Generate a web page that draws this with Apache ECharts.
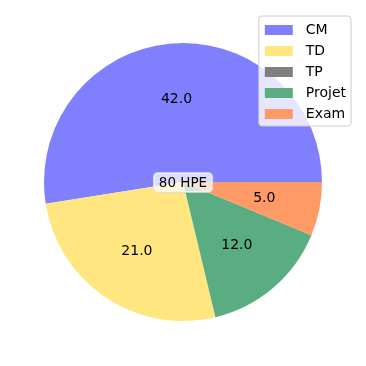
<!DOCTYPE html>
<html><head><meta charset="utf-8">
<script src="https://cdn.jsdelivr.net/npm/echarts@6/dist/echarts.min.js"></script>
<style>html,body{margin:0;padding:0;background:#fff}#c{width:366px;height:366px}</style>
</head><body><div id="c"></div>
<script>
const categories = ['CM', 'TD', 'TP', 'Projet', 'Exam'];
const values = [42, 21, 0, 12, 5];
const colors = ['#8080ff', '#ffe680', '#808080', '#5aad80', '#ff9966'];
const totalLabel = values.reduce((a, b) => a + b, 0) + ' HPE';

const chart = echarts.init(document.getElementById('c'), null, {renderer: 'canvas'});
const data = categories.map((n, i) => ({name: n, value: values[i], itemStyle: {color: colors[i]}}));
const R = 139;
chart.setOption({
  animation: false,
  legend: {
    data: categories,
    orient: 'vertical',
    right: 15, top: 16,
    icon: 'rect', itemWidth: 28, itemHeight: 10, itemGap: 5,
    padding: [6, 5, 4, 6],
    backgroundColor: 'rgba(255,255,255,0.8)',
    borderColor: '#cccccc', borderWidth: 1, borderRadius: 3,
    textStyle: {fontFamily: 'DejaVu Sans', fontSize: 14, color: '#000', padding: [0, 0, 0, 8], lineHeight: 16},
    selectedMode: false, z: 10
  },
  series: [
    {
      type: 'pie', silent: true, center: [183, 182], radius: [0, R],
      startAngle: 0, clockwise: false, avoidLabelOverlap: false,
      label: {show: false}, labelLine: {show: false},
      itemStyle: {borderWidth: 0},
      data: data
    },
    {
      type: 'pie', silent: true, center: [183, 182], radius: [0.15 * R, R],
      startAngle: 0, clockwise: false, avoidLabelOverlap: false,
      itemStyle: {color: 'transparent', borderWidth: 0},
      label: {show: true, position: 'inside', fontFamily: 'DejaVu Sans', fontSize: 14, color: '#000',
        formatter: p => p.value ? p.value.toFixed(1) : ''},
      labelLine: {show: false},
      data: categories.map((n, i) => ({name: n, value: values[i]}))
    }
  ],
  graphic: [{
    type: 'text', left: 'center', top: 172, z: 20,
    style: {text: totalLabel, fontFamily: 'DejaVu Sans', fontSize: 13.5, fill: '#000',
      backgroundColor: 'rgba(255,255,255,0.72)', borderColor: 'rgba(220,220,220,0.8)', borderWidth: 1,
      borderRadius: 4, padding: [3, 5, 2, 5]}
  }]
});
</script></body></html>
